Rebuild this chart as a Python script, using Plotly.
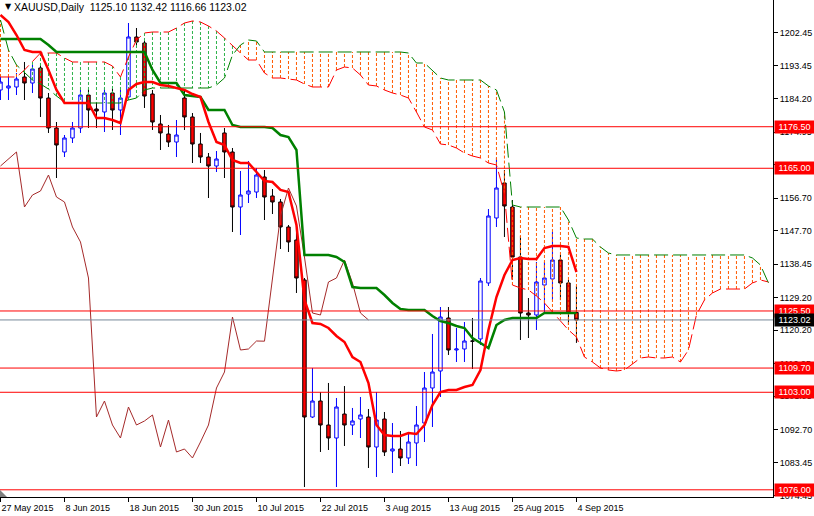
import plotly.graph_objects as go
import pandas as pd

# ---------------- data ----------------
dates = pd.bdate_range("2015-05-27", "2015-09-04")  # 73 daily bars

open_ = [1186.67, 1187.22, 1187.50, 1190.27, 1188.60, 1192.76, 1184.45, 1176.15, 1169.51, 1173.38,
         1176.15, 1185.28, 1181.41, 1180.58, 1185.84, 1181.13, 1184.73, 1201.34, 1199.68, 1185.56,
         1177.26, 1174.49, 1172.27, 1184.45, 1179.20, 1171.72, 1168.12, 1165.63, 1174.77, 1169.51,
         1154.28, 1157.88, 1158.43, 1162.59, 1157.33, 1155.67, 1148.75, 1145.15, 1134.08, 1096.15,
         1100.58, 1093.94, 1090.34, 1096.98, 1093.94, 1095.60, 1096.15, 1087.85, 1095.60, 1086.74,
         1087.30, 1084.81, 1088.96, 1094.49, 1104.18, 1108.89, 1123.56, 1114.70, 1114.98, 1117.19,
         1117.75, 1133.25, 1151.24, 1160.93, 1154.28, 1140.44, 1124.94, 1124.39, 1132.69, 1134.35,
         1139.61, 1133.25, 1125.10]
high = [1190.80, 1190.27, 1191.37, 1194.42, 1193.59, 1193.59, 1185.84, 1177.81, 1174.21, 1177.81,
        1186.67, 1186.94, 1183.35, 1187.22, 1187.22, 1186.67, 1205.21, 1203.83, 1200.23, 1186.67,
        1179.75, 1176.98, 1178.36, 1186.67, 1180.30, 1174.77, 1169.23, 1169.78, 1176.15, 1170.61,
        1164.25, 1167.02, 1165.08, 1164.52, 1159.26, 1156.50, 1149.30, 1148.47, 1134.63, 1109.72,
        1103.07, 1105.57, 1101.41, 1104.73, 1098.65, 1101.69, 1098.37, 1103.07, 1097.54, 1094.49,
        1092.28, 1091.45, 1099.20, 1108.61, 1119.13, 1126.60, 1126.60, 1120.79, 1122.45, 1123.56,
        1134.63, 1153.73, 1167.85, 1164.52, 1156.22, 1146.26, 1129.09, 1139.06, 1139.06, 1147.36,
        1141.00, 1134.08, 1132.42]
low = [1183.90, 1183.90, 1185.28, 1183.90, 1185.84, 1179.20, 1174.77, 1162.31, 1168.12, 1172.00,
       1174.77, 1176.15, 1176.15, 1175.04, 1175.60, 1174.21, 1183.90, 1199.12, 1181.69, 1175.60,
       1170.06, 1170.89, 1168.12, 1175.60, 1166.46, 1166.46, 1156.77, 1163.97, 1162.31, 1147.36,
       1146.53, 1155.39, 1156.77, 1150.68, 1152.34, 1142.66, 1141.83, 1130.48, 1076.77, 1095.87,
       1086.47, 1087.02, 1076.77, 1088.13, 1091.17, 1090.34, 1082.04, 1079.55, 1085.36, 1080.65,
       1082.59, 1083.14, 1082.59, 1089.23, 1093.39, 1101.69, 1113.32, 1111.38, 1111.38, 1109.44,
       1116.08, 1132.42, 1148.75, 1145.98, 1134.08, 1117.47, 1118.02, 1120.24, 1125.22, 1128.50,
       1128.50, 1121.62, 1116.66]
close = [1188.88, 1187.78, 1189.71, 1188.60, 1192.48, 1184.45, 1176.15, 1171.44, 1173.38, 1176.15,
         1185.28, 1181.13, 1180.86, 1185.84, 1181.13, 1184.45, 1201.34, 1199.95, 1185.00, 1177.81,
         1174.77, 1172.27, 1174.21, 1179.20, 1171.72, 1168.12, 1165.63, 1167.57, 1169.51, 1154.28,
         1157.60, 1158.71, 1163.14, 1157.05, 1155.67, 1148.75, 1144.60, 1134.63, 1096.15, 1100.58,
         1093.94, 1090.34, 1098.92, 1093.94, 1095.05, 1096.71, 1087.85, 1095.32, 1086.47, 1087.30,
         1084.81, 1089.23, 1093.94, 1104.18, 1108.61, 1123.83, 1114.70, 1114.98, 1117.19, 1117.14,
         1133.80, 1151.79, 1159.54, 1154.56, 1140.44, 1124.94, 1124.39, 1133.52, 1134.63, 1139.61,
         1133.25, 1124.94, 1123.02]

tenkan = [1207.43, 1205.49, 1201.89, 1197.74, 1197.19, 1197.19, 1192.20, 1186.67, 1183.07, 1183.07,
          1183.07, 1183.07, 1178.92, 1178.92, 1178.36, 1177.53, 1186.67, 1188.33, 1188.88, 1188.88,
          1188.05, 1187.78, 1187.22, 1186.67, 1185.56, 1184.73, 1177.81, 1172.27, 1171.44, 1167.29,
          1166.46, 1166.46, 1163.97, 1161.48, 1161.20, 1158.99, 1158.43, 1149.30, 1128.54, 1122.17,
          1121.90, 1120.79, 1118.58, 1116.91, 1112.76, 1111.38, 1105.57, 1093.94, 1091.17, 1090.90,
          1090.90, 1091.73, 1091.45, 1093.94, 1099.48, 1103.07, 1103.63, 1103.63, 1104.46, 1105.01,
          1109.16, 1120.24, 1129.37, 1135.46, 1139.61, 1140.17, 1139.89, 1139.89, 1142.93, 1143.49,
          1143.49, 1143.21, 1136.29]
kijun = [1200.78, 1200.78, 1200.78, 1200.78, 1200.78, 1200.78, 1199.12, 1197.19, 1197.19, 1197.19,
         1197.19, 1197.19, 1197.19, 1197.19, 1197.19, 1197.19, 1197.19, 1197.19, 1197.19, 1192.20,
         1188.61, 1188.61, 1188.61, 1185.28, 1185.01, 1184.73, 1181.13, 1181.13, 1181.13, 1176.98,
         1176.43, 1176.43, 1176.43, 1176.43, 1176.15, 1174.21, 1173.66, 1170.06, 1141.00, 1141.00,
         1141.00, 1141.00, 1140.44, 1139.06, 1132.14, 1131.86, 1131.86, 1131.86, 1129.92, 1127.71,
         1126.05, 1125.77, 1125.77, 1125.77, 1124.11, 1122.73, 1122.17, 1121.34, 1120.79, 1118.02,
         1116.64, 1115.25, 1121.62, 1123.00, 1123.56, 1123.56, 1123.56, 1123.56, 1124.94, 1124.94,
         1124.94, 1124.94, 1124.94]
senkou_a = [1190.27, 1190.27, 1190.27, 1192.20, 1194.42, 1196.91, 1196.91, 1196.91, 1195.53, 1194.42,
            1194.42, 1194.42, 1194.42, 1194.42, 1193.31, 1190.27, 1195.80, 1200.51, 1202.45, 1202.72,
            1202.72, 1202.72, 1203.83, 1205.21, 1205.77, 1205.49, 1204.38, 1203.00, 1201.06, 1198.85,
            1196.91, 1194.97, 1194.97, 1191.37, 1189.99, 1189.99, 1189.71, 1189.44, 1188.33, 1187.50,
            1187.50, 1187.50, 1192.20, 1193.03, 1192.76, 1190.82, 1188.05, 1187.78, 1186.67, 1185.84,
            1185.28, 1184.45, 1180.58, 1176.43, 1175.60, 1171.72, 1171.44, 1170.61, 1169.23, 1168.40,
            1167.85, 1166.46, 1165.91, 1158.00, 1132.69, 1131.86, 1131.31, 1129.65, 1127.71, 1125.22,
            1123.00, 1120.24, 1118.30, 1112.76, 1111.38, 1109.72, 1109.16, 1108.89, 1109.16, 1110.83,
            1112.49, 1112.76, 1112.49, 1112.49, 1112.76, 1111.38, 1114.70, 1124.39, 1128.54, 1130.48,
            1131.58, 1131.58, 1131.58, 1131.58, 1133.25, 1134.08, 1133.52]
senkou_b = [1206.04, 1197.74, 1193.59, 1191.37, 1189.44, 1188.33, 1186.94, 1185.01, 1183.35, 1183.07,
            1183.07, 1183.07, 1183.07, 1183.07, 1183.07, 1183.07, 1183.90, 1184.45, 1186.67, 1187.22,
            1187.22, 1187.22, 1187.22, 1187.22, 1187.22, 1187.22, 1187.22, 1188.05, 1189.99, 1196.36,
            1199.12, 1200.51, 1200.23, 1197.19, 1197.19, 1197.19, 1197.19, 1197.19, 1197.19, 1197.19,
            1197.19, 1197.19, 1197.19, 1197.19, 1197.19, 1197.19, 1197.19, 1197.19, 1197.19, 1197.19,
            1197.19, 1196.91, 1194.14, 1194.14, 1192.20, 1189.99, 1189.44, 1189.44, 1189.44, 1189.44,
            1189.44, 1187.78, 1186.67, 1180.58, 1154.84, 1154.28, 1154.28, 1154.28, 1154.28, 1154.28,
            1154.28, 1150.68, 1145.70, 1145.42, 1145.42, 1143.21, 1141.55, 1141.00, 1141.00, 1141.00,
            1141.00, 1141.00, 1141.00, 1141.00, 1141.00, 1141.00, 1141.00, 1141.00, 1141.00, 1141.00,
            1141.00, 1141.00, 1141.00, 1141.00, 1140.17, 1138.23, 1133.25]

levels = [1176.50, 1165.00, 1125.50, 1109.70, 1103.00, 1076.00]
last_price = 1123.02
price_ticks = [1074.45, 1083.45, 1092.70, 1101.95, 1110.95, 1120.20, 1129.20, 1138.45,
               1147.70, 1156.70, 1165.95, 1174.95, 1184.20, 1193.45, 1202.45, 1211.70]
symbol = "XAUUSD,Daily"
header_ohlc = [1125.10, 1132.42, 1116.66, 1123.02]
chikou_shift = 26
label_every = 8

# ---------------- styling ----------------
FONT = "Liberation Sans, Arial, sans-serif"
FS = 9
W, H = 814, 516
ML, MR, MT, MB = 0, 41, 0, 19
PW, PH = W - ML - MR, H - MT - MB
Y_RANGE = [1074.01, 1211.58]
X_RANGE = [-0.06, 96.57]

n = len(dates)
xs = list(range(n))
fig = go.Figure()

fig.add_trace(go.Candlestick(
    x=xs, open=open_, high=high, low=low, close=close,
    increasing=dict(line=dict(color="#0000FF", width=1), fillcolor="#FFFFFF"),
    decreasing=dict(line=dict(color="#000000", width=1), fillcolor="#FF0000"),
    whiskerwidth=0, showlegend=False, hoverinfo="skip"))

# cloud hatching
gx, gy, ox, oy = [], [], [], []
for i, (a, b) in enumerate(zip(senkou_a, senkou_b)):
    if a >= b:
        gx += [i, i, None]; gy += [a, b, None]
    else:
        ox += [i, i, None]; oy += [a, b, None]
fig.add_trace(go.Scatter(x=gx, y=gy, mode="lines", line=dict(color="#2DB24A", width=1, dash="3px,2px"),
                         showlegend=False, hoverinfo="skip"))
fig.add_trace(go.Scatter(x=ox, y=oy, mode="lines", line=dict(color="#FF5A00", width=1, dash="3px,2px"),
                         showlegend=False, hoverinfo="skip"))

cx = list(range(len(senkou_a)))
fig.add_trace(go.Scatter(x=cx, y=senkou_a, mode="lines", line=dict(color="#FF0000", width=1, dash="14px,5px"),
                         showlegend=False, hoverinfo="skip"))
fig.add_trace(go.Scatter(x=cx, y=senkou_b, mode="lines", line=dict(color="#008000", width=1, dash="14px,5px"),
                         showlegend=False, hoverinfo="skip"))

# chikou span: closes shifted back
fig.add_trace(go.Scatter(x=xs[:n - chikou_shift], y=close[chikou_shift:], mode="lines",
                         line=dict(color="#A52A2A", width=1), showlegend=False, hoverinfo="skip"))
fig.add_trace(go.Scatter(x=xs, y=kijun, mode="lines", line=dict(color="#008000", width=2.5),
                         showlegend=False, hoverinfo="skip"))
fig.add_trace(go.Scatter(x=xs, y=tenkan, mode="lines", line=dict(color="#FF0000", width=2.5),
                         showlegend=False, hoverinfo="skip"))

shapes = []
for lv in levels:
    shapes.append(dict(type="line", xref="paper", x0=0, x1=1, yref="y", y0=lv, y1=lv,
                       line=dict(color="#FF0000", width=1), layer="above"))
shapes.append(dict(type="line", xref="paper", x0=0, x1=1, yref="y", y0=last_price, y1=last_price,
                   line=dict(color="#778899", width=1), layer="above"))
# small shift marker bottom-left
shapes.append(dict(type="path", xref="paper", yref="paper",
                   path=f"M 0 0 L {7/PW} 0 L 0 {7/PH} Z", fillcolor="#808080", line=dict(width=0)))

annotations = []
for lv in levels:
    annotations.append(dict(xref="paper", x=1, yref="y", y=lv, xanchor="left", yanchor="middle",
                            xshift=1, text=f"{lv:.2f}", showarrow=False, bgcolor="#FF0000", width=37,
                            font=dict(family=FONT, size=FS, color="#FFFFFF"), borderpad=1))
annotations.append(dict(xref="paper", x=1, yref="y", y=last_price, xanchor="left", yanchor="middle",
                        xshift=1, text=f"{last_price:.2f}", showarrow=False, bgcolor="#000000", width=37,
                        font=dict(family=FONT, size=FS, color="#FFFFFF"), borderpad=1))
annotations.append(dict(xref="paper", x=3 / PW, yref="paper", y=1 - 7 / PH, xanchor="left", yanchor="middle",
                        text="▼", showarrow=False, font=dict(family="DejaVu Sans", size=8, color="#000000")))
annotations.append(dict(xref="paper", x=12 / PW, yref="paper", y=1 - 7 / PH, xanchor="left", yanchor="middle",
                        text=symbol + "  " + " ".join(f"{v:.2f}" for v in header_ohlc), showarrow=False,
                        font=dict(family=FONT, size=10.5, color="#000000")))

tick_idx = list(range(0, n, label_every))
tick_txt = [f"{dates[i].day} {dates[i].strftime('%b %Y')}" for i in tick_idx]

fig.update_layout(
    width=W, height=H, margin=dict(l=ML, r=MR, t=MT, b=MB),
    paper_bgcolor="#FFFFFF", plot_bgcolor="#FFFFFF",
    boxgap=0.38, showlegend=False, shapes=shapes, annotations=annotations,
    font=dict(family=FONT, size=FS, color="#000000"),
    xaxis=dict(range=X_RANGE, tickvals=tick_idx, ticktext=tick_txt, ticks="outside", ticklen=4,
               tickcolor="#000000", ticklabelposition="outside right", ticklabelstandoff=2,
               showline=True, linecolor="#000000",
               linewidth=1, showgrid=False, zeroline=False, rangeslider=dict(visible=False),
               tickfont=dict(family=FONT, size=FS, color="#000000")),
    yaxis=dict(side="right", range=Y_RANGE, tickvals=price_ticks, ticktext=[f"{v:.2f}" for v in price_ticks],
               ticks="outside", ticklen=4, tickcolor="#000000", showline=True, linecolor="#000000",
               linewidth=1, showgrid=False, zeroline=False,
               tickfont=dict(family=FONT, size=FS, color="#000000")),
)

fig.write_html("out.html", config={"displayModeBar": False},
               post_script="document.body.style.margin='0';document.body.style.overflow='hidden';")
